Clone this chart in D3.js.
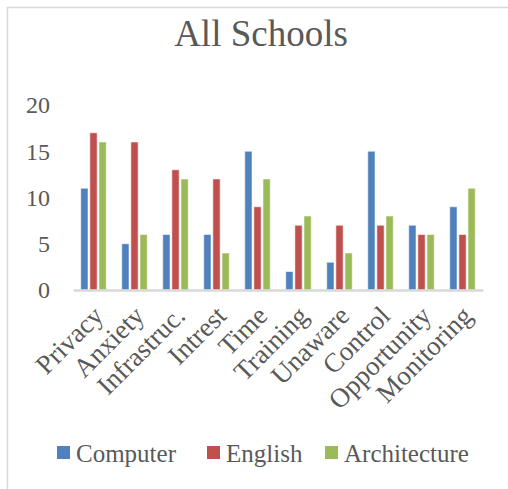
<!DOCTYPE html>
<html>
<head>
<meta charset="utf-8">
<script src="https://cdn.jsdelivr.net/npm/d3@7"></script>
<style>
  html, body { margin: 0; padding: 0; background: #fff; }
  svg { display: block; }
</style>
</head>
<body>
<svg id="chart" width="508" height="489"></svg>
<script>
// Responses per category, by school
const categories = ["Privacy", "Anxiety", "Infrastruc.", "Intrest", "Time", "Training", "Unaware", "Control", "Opportunity", "Monitoring"];
const seriesNames = ["Computer", "English", "Architecture"];
const computer = [11, 5, 6, 6, 15, 2, 3, 15, 7, 9];
const english = [17, 16, 13, 12, 9, 7, 7, 7, 6, 6];
const architecture = [16, 6, 12, 4, 12, 8, 4, 8, 6, 11];
const yTicks = [0, 5, 10, 15, 20];
const colors = ["#4F81BD", "#C0504D", "#9BBB59"];

const series = [computer, english, architecture];
const font = "'Liberation Serif', 'Times New Roman', serif";
const textColor = "#595959";

const svg = d3.select("#chart");

// Chart frame
svg.append("rect")
  .attr("x", 7.5).attr("y", 7.5)
  .attr("width", 520).attr("height", 500)
  .attr("fill", "#fff")
  .attr("stroke", "#d9d9d9")
  .attr("stroke-width", 1.5);

// Title
svg.append("text")
  .attr("x", 261).attr("y", 46)
  .attr("text-anchor", "middle")
  .attr("font-family", font)
  .attr("font-size", 37)
  .attr("fill", textColor)
  .text("All Schools");

const plot = { left: 73, right: 483, top: 105, bottom: 290 };

const x = d3.scaleBand()
  .domain(categories)
  .range([plot.left, plot.right])
  .paddingInner(0)
  .paddingOuter(0);

const xInner = d3.scaleBand()
  .domain(seriesNames)
  .range([0, 25.5])
  .paddingInner(0.2);

const y = d3.scaleLinear()
  .domain([0, 20])
  .range([plot.bottom, plot.top]);

// Y axis labels (no axis line, no gridlines)
const yAxis = d3.axisLeft(y).tickValues(yTicks).tickSize(0).tickPadding(0);
const yg = svg.append("g")
  .attr("transform", `translate(50,0)`)
  .call(yAxis);
yg.select(".domain").remove();
yg.selectAll("text")
  .attr("font-family", font)
  .attr("font-size", 24)
  .attr("fill", textColor)
  .attr("dy", "0.33em");

// Bars
const groups = svg.append("g").selectAll("g")
  .data(seriesNames)
  .join("g")
  .attr("fill", (d, i) => colors[i]);

groups.selectAll("rect")
  .data((name, si) => categories.map((c, ci) => ({ c, name, v: series[si][ci] })))
  .join("rect")
  .attr("x", d => x(d.c) + (x.bandwidth() - 25.5) / 2 + xInner(d.name))
  .attr("y", d => y(d.v))
  .attr("width", xInner.bandwidth())
  .attr("height", d => y(0) - y(d.v))
  .attr("stroke", "rgba(255,255,255,0.55)")
  .attr("stroke-width", 1);

// X axis baseline
const xAxis = d3.axisBottom(x).tickSize(0).tickPadding(0).tickFormat("");
const xg = svg.append("g")
  .attr("transform", `translate(0,${plot.bottom})`)
  .call(xAxis);
xg.select(".domain")
  .attr("stroke", "#d9d9d9")
  .attr("stroke-width", 2.5);

// Rotated category labels
svg.append("g").selectAll("text")
  .data(categories)
  .join("text")
  .attr("transform", d => `translate(${x(d) + x.bandwidth() / 2 - 2},${plot.bottom + 14}) rotate(-45)`)
  .attr("text-anchor", "end")
  .attr("dy", "0.7em")
  .attr("font-family", font)
  .attr("font-size", 27)
  .attr("fill", textColor)
  .text(d => d);

// Legend
const legendItems = [
  { name: seriesNames[0], sx: 57 },
  { name: seriesNames[1], sx: 207 },
  { name: seriesNames[2], sx: 325 }
];
const lg = svg.append("g").selectAll("g")
  .data(legendItems)
  .join("g");
lg.append("rect")
  .attr("x", d => d.sx).attr("y", 446)
  .attr("width", 13).attr("height", 13)
  .attr("fill", (d, i) => colors[i]);
lg.append("text")
  .attr("x", d => d.sx + 19).attr("y", 462)
  .attr("font-family", font)
  .attr("font-size", 25)
  .attr("fill", textColor)
  .text(d => d.name);
</script>
</body>
</html>
